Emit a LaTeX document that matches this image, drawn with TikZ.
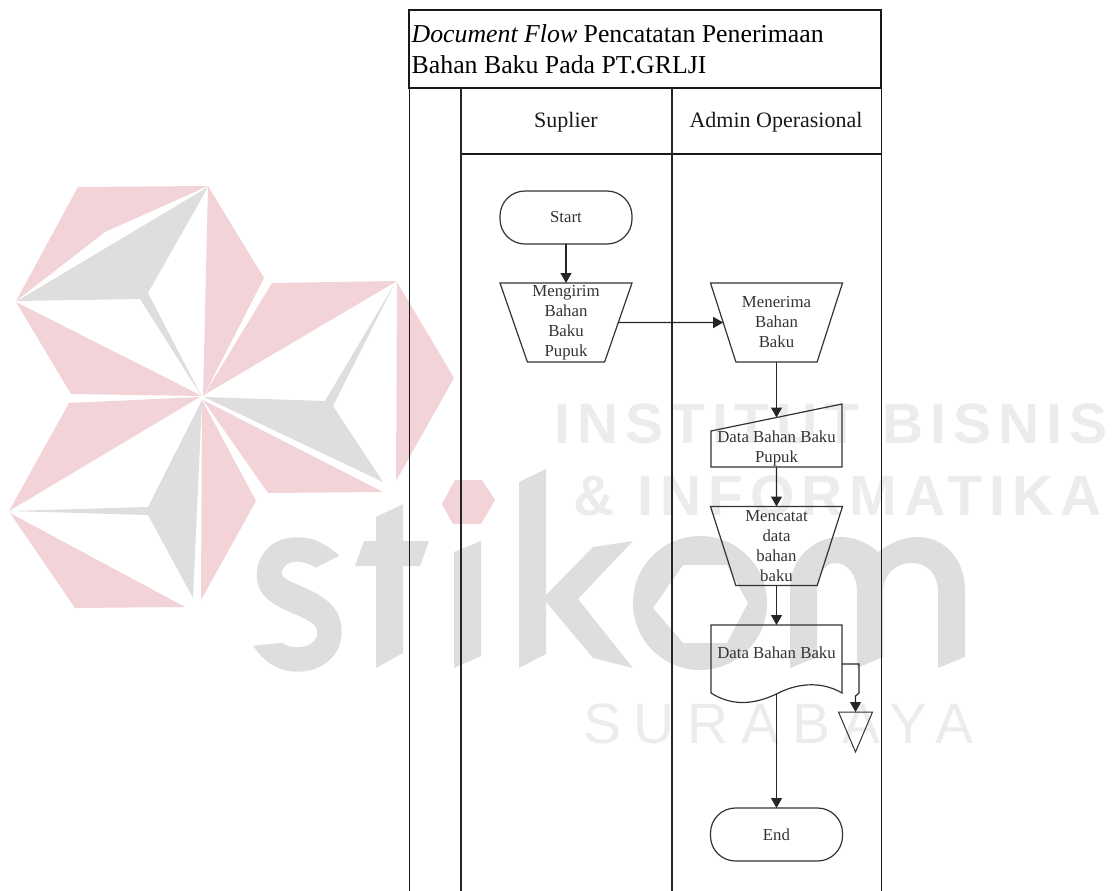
\documentclass[tikz,border=0pt]{standalone}
\usepackage{fontspec}
\usepackage{tikz}
\usetikzlibrary{arrows.meta,shapes.geometric}
\setmainfont{Liberation Serif}
\newfontfamily\wminst[LetterSpace=12.3]{Liberation Sans}
\newfontfamily\wmkota[LetterSpace=22.2]{Liberation Sans}
\definecolor{wmpink}{HTML}{F2D3D7}
\definecolor{wmgray}{HTML}{DEDEDE}
\definecolor{wmtext}{HTML}{ECECEC}

\tikzset{
  flowtext/.style={font=\fontsize{16.8}{20}\selectfont,text=black!80,align=center},
  lanehead/.style={font=\fontsize{22}{26}\selectfont,text=black!90},
  manualop/.style={trapezium,trapezium stretches body=true,trapezium left angle=59.6,trapezium right angle=59.6,
    shape border rotate=180,draw=black!80,line width=1.2pt,minimum width=132pt,minimum height=79pt,
    inner xsep=0pt,inner ysep=-14pt,outer sep=0pt,flowtext},
  terminal/.style={draw=black!80,line width=1.2pt,rounded corners=25pt,minimum width=132pt,minimum height=53pt,
    inner sep=0pt,outer sep=0pt,flowtext},
  plainbox/.style={minimum width=131pt,inner sep=0pt,outer sep=0pt,flowtext},
  offpagemark/.style={isosceles triangle,isosceles triangle stretches=true,shape border rotate=-90,draw=black!80,
    line width=1pt,minimum width=34pt,minimum height=40pt,inner sep=0pt,outer sep=0pt},
  flowline/.style={draw=black!85,line width=1.2pt,-{Triangle[length=10pt,width=11pt]}},
  wmletter/.style={font=\fontsize{57}{57}\selectfont,text=wmtext,inner sep=0pt,anchor=base west}
}

\begin{document}
\begin{tikzpicture}[x=1pt,y=-1pt,>=Latex]
  \useasboundingbox (0,0) rectangle (1116,891);

  % ================= watermark: star =================
  \fill[wmpink] (78,187) -- (208,186) -- (105,232) -- (16,301) -- cycle;
  \fill[wmpink] (208,186) -- (264,278) -- (203,397) -- cycle;
  \fill[wmpink] (16,302) -- (202,396) -- (71,394) -- cycle;
  \fill[wmpink] (69,403) -- (200,397) -- (9,511) -- cycle;
  \fill[wmpink] (10,513) -- (185,607) -- (75,608) -- cycle;
  \fill[wmpink] (202,400) -- (256,501) -- (201,600) -- cycle;
  \fill[wmpink] (203,400) -- (383,492) -- (268,493) -- cycle;
  \fill[wmpink] (272,283) -- (397,281) -- (204,395) -- cycle;
  \fill[wmpink] (397,282) -- (454,378) -- (396,481) -- cycle;
  \fill[wmpink] (442,504) -- (455,480) -- (482,480) -- (495,500) -- (481,524) -- (453,524) -- cycle;
  \fill[wmgray] (208,187) -- (148,293) -- (202,397) -- (140,299) -- (17,301) -- cycle;
  \fill[wmgray] (10,511) -- (148,507) -- (202,400) -- (193,598) -- (148,515) -- cycle;
  \fill[wmgray] (204,397) -- (325,401) -- (395,283) -- (333,406) -- (383,482) -- cycle;

  % ================= watermark: letters =================
  \fill[wmgray] (339.3,555.7) .. controls (320,538.3) and (306.7,537.3) .. (296.7,537.3)
    .. controls (270,537.3) and (256.7,556.7) .. (256.7,575)
    .. controls (256.7,596.7) and (273.3,605) .. (296.7,615)
    .. controls (311.7,621.7) and (317.3,625) .. (317.3,633.3)
    .. controls (317.3,641.7) and (308.3,647.3) .. (296.7,647.3)
    .. controls (290,647.3) and (285,645) .. (282.7,642.7) -- (253.3,645.7)
    .. controls (263.3,661.7) and (278.3,671.7) .. (297.3,671.7)
    .. controls (323.3,671.7) and (341.7,655) .. (341.7,631.7)
    .. controls (341.7,606.7) and (323.3,595) .. (298.3,585)
    .. controls (286.7,580) and (281.7,576.7) .. (281.7,573.3)
    .. controls (281.7,566.7) and (288.3,561.7) .. (296.7,561.7)
    .. controls (303.3,561.7) and (310,564) .. (316,567.7) -- cycle;
  \fill[wmgray] (376,517) -- (403,504) -- (403,541) -- (429,541) -- (420,566) -- (403,566) -- (403,653)
    -- (376,668) -- (376,566) -- (355,566) -- (364,541) -- (376,541) -- cycle;
  \fill[wmgray] (454,552) -- (481,541) -- (481,656) -- (454,668) -- cycle;
  \fill[wmgray] (519,482) -- (546,469) -- (546,595) -- (593,547) -- (633,541) -- (578,599) -- (633,668)
    -- (593,658) -- (546,602) -- (546,654) -- (519,668) -- cycle;
  \fill[wmgray,even odd rule] (633,603) .. controls (633,566) and (663,536) .. (700,536)
    .. controls (737,536) and (767,566) .. (767,603) .. controls (767,640) and (737,670) .. (700,670)
    .. controls (663,670) and (633,640) .. (633,603) -- cycle
    (653,608) -- (683,565) -- (727,565) -- (748,603) -- (727,643) -- (683,643) -- cycle;
  \fill[wmgray] (790,668) -- (790,588) .. controls (790,558) and (815,537) .. (840,537)
    .. controls (858,537) and (870,545) .. (878,552) .. controls (888,544) and (903,537) .. (918,537)
    .. controls (945,537) and (965,560) .. (965,590) -- (965,657) -- (938,668) -- (938,592)
    .. controls (938,575) and (928,563) .. (912,563) .. controls (895,563) and (883,575) .. (883,592)
    -- (883,657) -- (857,668) -- (857,592) .. controls (857,575) and (848,563) .. (835,563)
    .. controls (825,563) and (817,575) .. (817,592) -- (817,657) -- cycle;

  \node[wmletter] (wminstitut) at (554,443) {\wminst\bfseries INSTITUT BISNIS};
  \node[wmletter] (wminformatika) at (573,515) {\wminst\bfseries \& INFORMATIKA};
  \node[wmletter] (wmsurabaya) at (583,743) {\wmkota SURABAYA};

  % ================= frame and lanes =================
  \draw[black!90,line width=1.2pt] (409,10) rectangle (881,88);
  \draw[black!90,line width=2pt] (409,88) -- (881,88);
  \draw[black!90,line width=1.4pt] (461,154) -- (881,154);
  \draw[black!90,line width=1pt] (409,88) -- (409,891);
  \draw[black!90,line width=1pt] (881,88) -- (881,891);
  \draw[black!85,line width=1.5pt] (461,88) -- (461,891);
  \draw[black!85,line width=1.5pt] (672,88) -- (672,891);

  \node[font=\fontsize{25.8}{31}\selectfont,align=left,anchor=west,inner sep=0pt] (judul) at (411.5,49)
    {\textit{Document Flow} Pencatatan Penerimaan\\Bahan Baku Pada PT.GRLJI};
  \node[lanehead] (suplier) at (566,122) {Suplier};
  \node[lanehead] (admin) at (776,122) {Admin Operasional};

  % ================= flow =================
  \node[terminal] (start) at (566,217.5) {Start};
  \node[manualop] (mengirim) at (566,322.5) {Mengirim\\Bahan\\Baku\\Pupuk};
  \node[manualop,inner ysep=-4pt] (menerima) at (776.5,322.5) {Menerima\\Bahan\\Baku};
  \node[plainbox,minimum height=37pt] (datapupuk) at (776.5,448.5) {Data Bahan Baku\\Pupuk};
  \node[manualop] (mencatat) at (776.5,546) {Mencatat\\data\\bahan\\baku};
  \node[plainbox,minimum height=56pt] (datadoc) at (776.5,653) {Data Bahan Baku};
  \node[offpagemark,anchor=apex] (offpage) at (855.5,752) {};
  \node[terminal] (end) at (776.5,834.5) {End};

  % ================= document and input outlines =================
  \draw[black!80,line width=1.2pt] (711,431) -- (842,404) -- (842,467) -- (711,467) -- cycle;
  \draw[black!80,line width=1.2pt] (711,625) -- (842,625) -- (842,693)
    .. controls (820,680) and (795,684) .. (776.5,694) .. controls (755,704) and (733,707) .. (711,693) -- cycle;

  \coordinate (datatop) at (776.5,417.5);
  \coordinate (docbottom) at (776.5,694);
  \coordinate (docside) at (842,664);
  \coordinate (docbend) at (859,693);
  \coordinate (docjog) at (855.5,696);

  % ================= connectors =================
  \draw[flowline] (start) -- (mengirim);
  \draw[flowline] (mengirim.east) -- (menerima.west);
  \draw[flowline] (menerima) -- (datatop);
  \draw[flowline] (datapupuk) -- (mencatat);
  \draw[flowline] (mencatat) -- (datadoc);
  \draw[flowline] (docbottom) -- (end);
  \draw[flowline] (docside) -| (docbend) -- (docjog) -- (offpage.north);

\end{tikzpicture}
\end{document}
